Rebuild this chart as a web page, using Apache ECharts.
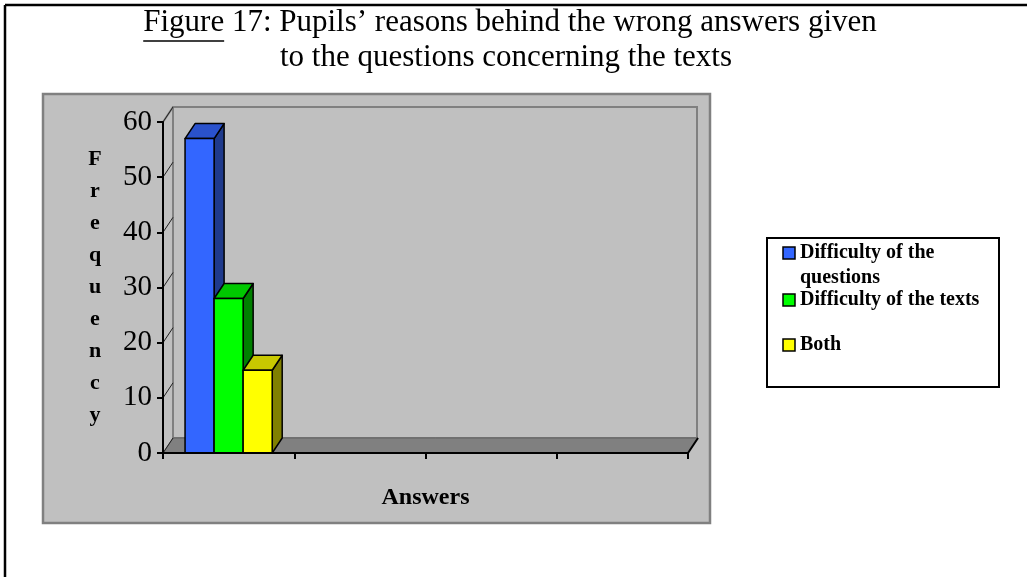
<!DOCTYPE html>
<html>
<head>
<meta charset="utf-8">
<title>Figure 17</title>
<script src="https://cdn.jsdelivr.net/npm/echarts@6/dist/echarts.min.js"></script>
<style>
  html, body { margin: 0; padding: 0; background: #fff; }
  #chart { width: 1027px; height: 577px; }
</style>
</head>
<body>
<div id="chart"></div>
<script>
// data
var categories = ['1', '2', '3', '4'];
var seriesNames = ['Difficulty of the questions', 'Difficulty of the texts', 'Both'];
var legendLabels = [['Difficulty of the', 'questions'], ['Difficulty of the texts'], ['Both']];
var questionsData = [57];
var textsData = [28];
var bothData = [15];
var yTicks = [0, 10, 20, 30, 40, 50, 60];

// front / top / side face colours
var faceColors = [
    ['#3366FF', '#2A52CC', '#1F3A8C'],
    ['#00FF00', '#00C800', '#008000'],
    ['#FFFF00', '#C8C800', '#808000']
];
var DX = 10;   // depth of the fake 3d
var DY = -15;
var serif = '"Liberation Serif", "Times New Roman", serif';

var chart = echarts.init(document.getElementById('chart'));

function toPairs (arr) {
    return arr.map(function (v, i) { return [i, v]; });
}

// 3d bar: front rect + top + right side
function barRenderer (idx) {
    return function (params, api) {
        var cat = api.value(0);
        var top = api.coord([cat, api.value(1)]);
        var base = api.coord([cat, 0]);
        var band = api.size([1, 0])[0];
        var w = band * 0.664 / 3;
        var x0 = top[0] - 1.5 * w + idx * w;
        var ty = top[1];
        var by = base[1];
        var c = faceColors[idx];
        var edge = { stroke: '#000', lineWidth: 1.5, lineJoin: 'round' };
        return {
            type: 'group',
            children: [
                {
                    type: 'polygon',
                    shape: { points: [[x0 + w, ty], [x0 + w + DX, ty + DY], [x0 + w + DX, by + DY], [x0 + w, by]] },
                    style: Object.assign({ fill: c[2] }, edge)
                },
                {
                    type: 'polygon',
                    shape: { points: [[x0, ty], [x0 + DX, ty + DY], [x0 + w + DX, ty + DY], [x0 + w, ty]] },
                    style: Object.assign({ fill: c[1] }, edge)
                },
                {
                    type: 'rect',
                    shape: { x: x0, y: ty, width: w, height: by - ty },
                    style: Object.assign({ fill: c[0] }, edge)
                }
            ]
        };
    };
}

// floor, side wall edge and the slanted ticks
function floorRenderer (params, api) {
    var cs = params.coordSys;
    var x1 = cs.x, x2 = cs.x + cs.width, yb = cs.y + cs.height;
    var children = [
        {
            type: 'polygon',
            shape: { points: [[x1, yb], [x2, yb], [x2 + DX, yb + DY], [x1 + DX, yb + DY]] },
            style: { fill: '#808080', stroke: '#606060', lineWidth: 1 }
        },
        {
            type: 'line',
            shape: { x1: x2, y1: yb, x2: x2 + DX, y2: yb + DY },
            style: { stroke: '#000', lineWidth: 2 }
        },
        {
            type: 'line',
            shape: { x1: x1, y1: cs.y, x2: x1 + DX, y2: cs.y + DY },
            style: { stroke: '#808080', lineWidth: 2 }
        }
    ];
    yTicks.forEach(function (t) {
        var p = api.coord([0, t]);
        children.push({
            type: 'line',
            shape: { x1: x1, y1: p[1], x2: x1 + DX, y2: p[1] + DY },
            style: { stroke: '#202020', lineWidth: 1 }
        });
    });
    return { type: 'group', children: children };
}

// legend box drawn by hand so the wrapped first item lines up like the original
var legendGraphics = [
    {
        type: 'rect', z: 10,
        shape: { x: 767, y: 238, width: 232, height: 149 },
        style: { fill: '#fff', stroke: '#000', lineWidth: 2 }
    }
];
var legendRows = [253, 300, 345];
legendLabels.forEach(function (lines, i) {
    legendGraphics.push({
        type: 'rect', z: 10,
        shape: { x: 783, y: legendRows[i] - 6, width: 12, height: 12 },
        style: { fill: faceColors[i][0], stroke: '#000', lineWidth: 1.5 }
    });
    lines.forEach(function (txt, j) {
        legendGraphics.push({
            type: 'text', z: 10,
            x: 800, y: legendRows[i] + j * 25,
            style: { text: txt, font: 'bold 20px ' + serif, fill: '#000', textVerticalAlign: 'middle' }
        });
    });
});

// underline under "Figure"
var titleLine1 = 'Figure 17: Pupils\u2019 reasons behind the wrong answers given';
var titleLine2 = 'to the questions concerning the texts';
var titleFont = '31px ' + serif;
var ctx = document.createElement('canvas').getContext('2d');
ctx.font = titleFont;
var line1W = ctx.measureText(titleLine1).width;
var figW = ctx.measureText('Figure').width;
var titleCx = 510;
var ulX = titleCx - line1W / 2;

var option = {
    animation: false,
    backgroundColor: '#fff',
    grid: [
        { left: 163, top: 122, width: 525, height: 331, z: 2 },
        {
            left: 173, top: 107, width: 524, height: 331, z: 1,
            show: true, backgroundColor: '#C0C0C0', borderColor: '#808080', borderWidth: 2
        }
    ],
    xAxis: [
        {
            type: 'category', gridIndex: 0, data: categories, z: 6,
            name: 'Answers', nameLocation: 'middle', nameGap: 45,
            nameTextStyle: { fontFamily: serif, fontWeight: 'bold', fontSize: 24, color: '#000', verticalAlign: 'middle' },
            axisLine: { lineStyle: { color: '#000', width: 2 } },
            axisTick: { show: true, length: 6, lineStyle: { color: '#000', width: 2 } },
            axisLabel: { show: false },
            splitLine: { show: false }
        },
        {
            type: 'category', gridIndex: 1, data: categories, show: false
        }
    ],
    yAxis: [
        {
            type: 'value', gridIndex: 0, min: 0, max: 60, interval: 10, z: 6,
            name: 'F\nr\ne\nq\nu\ne\nn\nc\ny', nameLocation: 'middle', nameRotate: 0, nameGap: 68,
            nameTextStyle: {
                fontFamily: serif, fontWeight: 'bold', fontSize: 22, lineHeight: 32,
                color: '#000', align: 'center', verticalAlign: 'middle'
            },
            axisLine: { show: true, lineStyle: { color: '#000', width: 2 } },
            axisTick: { show: true, length: 6, lineStyle: { color: '#000', width: 2 } },
            axisLabel: { fontFamily: serif, fontSize: 29, color: '#000', margin: 11 },
            splitLine: { show: false }
        },
        {
            type: 'value', gridIndex: 1, min: 0, max: 60, interval: 10,
            axisLine: { show: false },
            axisTick: { show: false },
            axisLabel: { show: false },
            splitLine: { show: true, lineStyle: { color: '#404040', width: 1.5 } }
        }
    ],
    series: [
        {
            type: 'custom', name: 'floor', xAxisIndex: 0, yAxisIndex: 0, z: 3, silent: true,
            data: [[0, 0]], renderItem: floorRenderer
        },
        {
            type: 'custom', name: seriesNames[0], xAxisIndex: 0, yAxisIndex: 0, z: 4,
            encode: { x: 0, y: 1 }, data: toPairs(questionsData), renderItem: barRenderer(0)
        },
        {
            type: 'custom', name: seriesNames[1], xAxisIndex: 0, yAxisIndex: 0, z: 4,
            encode: { x: 0, y: 1 }, data: toPairs(textsData), renderItem: barRenderer(1)
        },
        {
            type: 'custom', name: seriesNames[2], xAxisIndex: 0, yAxisIndex: 0, z: 4,
            encode: { x: 0, y: 1 }, data: toPairs(bothData), renderItem: barRenderer(2)
        }
    ],
    graphic: [
        // page frame (left and top only)
        { type: 'line', z: 0, shape: { x1: 5, y1: 5, x2: 1027, y2: 5 }, style: { stroke: '#000', lineWidth: 2.5 } },
        { type: 'line', z: 0, shape: { x1: 5, y1: 5, x2: 5, y2: 577 }, style: { stroke: '#000', lineWidth: 2.5 } },
        // chart area
        {
            type: 'rect', z: 0,
            shape: { x: 43, y: 94, width: 667, height: 429 },
            style: { fill: '#C0C0C0', stroke: '#808080', lineWidth: 2.5 }
        },
        {
            type: 'text', z: 10, x: titleCx, y: 23,
            style: { text: titleLine1, font: titleFont, fill: '#000', textAlign: 'center', textVerticalAlign: 'middle' }
        },
        {
            type: 'text', z: 10, x: 506, y: 58,
            style: { text: titleLine2, font: titleFont, fill: '#000', textAlign: 'center', textVerticalAlign: 'middle' }
        },
        {
            type: 'line', z: 10,
            shape: { x1: ulX, y1: 41, x2: ulX + figW, y2: 41 },
            style: { stroke: '#000', lineWidth: 1.5 }
        }
    ].concat(legendGraphics)
};

chart.setOption(option);
</script>
</body>
</html>
